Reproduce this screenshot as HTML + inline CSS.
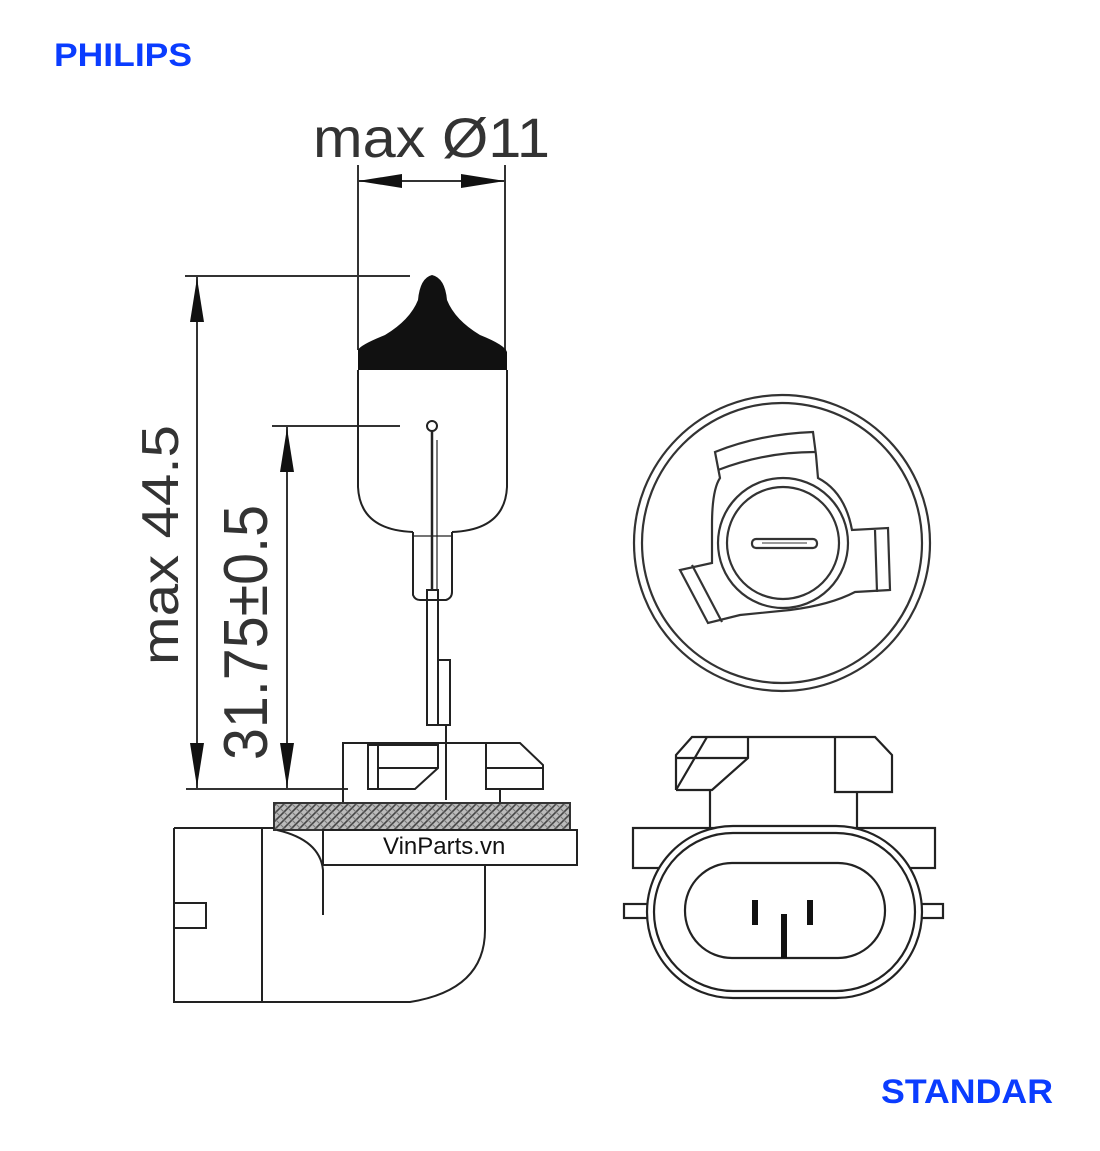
<!DOCTYPE html>
<html><head><meta charset="utf-8"><style>
html,body{margin:0;padding:0;background:#fff;}
svg{display:block;}
</style></head><body>
<svg width="1100" height="1151" viewBox="0 0 1100 1151" xmlns="http://www.w3.org/2000/svg">
<defs>
<pattern id="hatch" width="8" height="8" patternUnits="userSpaceOnUse">
<rect width="8" height="8" fill="#bbb"/>
<path d="M0,8 L8,0 M-2,2 L2,-2 M6,10 L10,6" stroke="#444" stroke-width="1.6"/>
<path d="M0,0 L8,8" stroke="#777" stroke-width="1"/>
</pattern>
</defs>
<g font-family="Liberation Sans, sans-serif" font-weight="bold" fill="#0a3cff">
<text x="54" y="66" font-size="32" textLength="138" lengthAdjust="spacingAndGlyphs">PHILIPS</text>
<text x="881" y="1103" font-size="34" textLength="172" lengthAdjust="spacingAndGlyphs">STANDAR</text>
</g>
<g font-family="Liberation Sans, sans-serif" fill="#333">
<text x="313" y="157" font-size="56" textLength="237" lengthAdjust="spacingAndGlyphs">max Ø11</text>
<text transform="translate(178,665) rotate(-90)" font-size="52" textLength="240" lengthAdjust="spacingAndGlyphs">max 44.5</text>
<text transform="translate(267,760) rotate(-90)" font-size="62" textLength="255" lengthAdjust="spacingAndGlyphs">31.75±0.5</text>
</g>
<g stroke="#333" stroke-width="2" fill="none">
<!-- dim Ø11 -->
<line x1="358" y1="165" x2="358" y2="350"/>
<line x1="505" y1="165" x2="505" y2="350"/>
<line x1="358" y1="181" x2="505" y2="181"/>
<!-- dim 44.5 -->
<line x1="185" y1="276" x2="410" y2="276"/>
<line x1="197" y1="276" x2="197" y2="789"/>
<line x1="186" y1="789" x2="348" y2="789"/>
<!-- dim 31.75 -->
<line x1="272" y1="426" x2="400" y2="426"/>
<line x1="287" y1="426" x2="287" y2="789"/>
</g>
<g fill="#111">
<polygon points="358,181 402,174 402,188"/>
<polygon points="505,181 461,174 461,188"/>
<polygon points="197,278 190,322 204,322"/>
<polygon points="197,787 190,743 204,743"/>
<polygon points="287,428 280,472 294,472"/>
<polygon points="287,787 280,743 294,743"/>
</g>
<!-- bulb -->
<path d="M358,370 L358,350 Q360,345 385,335 Q410,320 418,300 Q420,278 432,275 Q445,278 447,300 Q455,320 480,335 Q505,345 507,352 L507,370 Z" fill="#111"/>
<g stroke="#222" stroke-width="2" fill="none">
<path d="M358,370 L358,487 Q360,530 413,532 M507,370 L507,487 Q505,530 452,532"/>
<path d="M413,532 L413,595 Q415,600 420,600 L446,600 Q452,598 452,592 L452,532"/>
<line x1="413" y1="536" x2="452" y2="536" stroke-width="1.2"/>
<circle cx="432" cy="426" r="5"/>
<line x1="432" y1="431" x2="432" y2="590" stroke-width="2.5"/>
<line x1="437" y1="440" x2="437" y2="590" stroke-width="1.2"/>
<rect x="427" y="590" width="11" height="135"/>
<rect x="438" y="660" width="12" height="65"/>
<path d="M446,725 L446,800" />
<!-- base block -->
<path d="M343,803 L343,743 L520,743 L543,765 L543,789 L486,789 L486,743"/>
<path d="M368,789 L368,745 L438,745 L438,768 L415,789 Z"/>
<line x1="378" y1="745" x2="378" y2="789"/>
<line x1="378" y1="768" x2="438" y2="768"/>
<line x1="486" y1="768" x2="543" y2="768"/>
<line x1="500" y1="789" x2="500" y2="803"/>
</g>
<rect x="274" y="803" width="296" height="27" fill="url(#hatch)" stroke="#333" stroke-width="2"/>
<g stroke="#222" stroke-width="2" fill="none">
<rect x="323" y="830" width="254" height="35" fill="#fff"/>
<path d="M174,828 L274,828 M174,828 L174,1002 L410,1002 Q485,990 485,930 L485,865"/>
<line x1="262" y1="828" x2="262" y2="1002"/>
<rect x="174" y="903" width="32" height="25"/>
<path d="M277,830 Q320,840 323,870 L323,915"/>
</g>
<text x="383" y="854" font-family="Liberation Sans, sans-serif" font-size="24" fill="#111">VinParts.vn</text>
<!-- top view -->
<g stroke="#333" stroke-width="2.2" fill="none">
<circle cx="782" cy="543" r="148"/>
<circle cx="782" cy="543" r="140"/>
<circle cx="783" cy="543" r="65"/>
<circle cx="783" cy="543" r="56"/>
<path d="M715,452 Q760,434 813,432 L816,455 L818,478 Q845,492 852,530 L888,528 L890,590 L855,592 Q830,605 790,610 L740,615 L708,623 L680,570 L712,563 L712,525 Q712,490 720,478 Z"/>
<path d="M718,470 Q765,452 815,452"/>
<path d="M875,530 L877,592"/>
<path d="M692,565 L722,622"/>
<rect x="752" y="539" width="65" height="9" rx="4"/>
<line x1="762" y1="543" x2="807" y2="543" stroke-width="1"/>
</g>
<!-- front view -->
<g stroke="#222" stroke-width="2.2" fill="none">
<path d="M676,790 L676,755 L692,737 L875,737 L892,755 L892,792 L835,792 L835,737"/>
<path d="M676,790 L712,790 L748,758 L748,737"/>
<line x1="676" y1="758" x2="748" y2="758"/>
<line x1="707" y1="737" x2="676" y2="790"/>
<line x1="710" y1="790" x2="710" y2="828"/>
<line x1="857" y1="792" x2="857" y2="828"/>
<rect x="633" y="828" width="302" height="40" fill="#fff"/>
<rect x="624" y="904" width="24" height="14"/>
<rect x="920" y="904" width="23" height="14"/>
<rect x="647" y="826" width="275" height="172" rx="86" fill="#fff"/>
<rect x="654" y="833" width="261" height="158" rx="79"/>
<rect x="685" y="863" width="200" height="95" rx="47"/>
</g>
<g fill="#111">
<rect x="752" y="900" width="6" height="25"/>
<rect x="807" y="900" width="6" height="25"/>
<rect x="781" y="914" width="6" height="44"/>
</g>
</svg>
</body></html>
